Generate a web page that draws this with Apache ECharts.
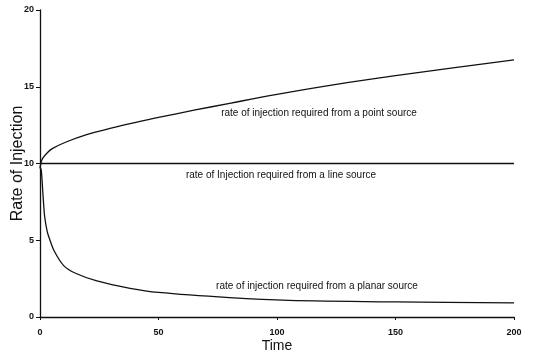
<!DOCTYPE html>
<html><head><meta charset="utf-8">
<script src="https://cdn.jsdelivr.net/npm/echarts@6/dist/echarts.min.js"></script>
<style>html,body{margin:0;padding:0;background:#fff}#c{width:535px;height:357px}</style>
</head><body><div id="c"></div>
<script>
const xTicks = [0, 50, 100, 150, 200];
const yTicks = [0, 5, 10, 15, 20];
const pointT = [0, 0.5, 1, 2.5, 5, 11, 20, 30, 40, 50, 65, 80, 100, 125, 150, 175, 200];
const pointV = [9.7, 10.1, 10.3, 10.6, 10.95, 11.4, 11.9, 12.3, 12.66, 13.0, 13.47, 13.92, 14.5, 15.15, 15.72, 16.25, 16.75];
const lineT = [0, 50, 100, 150, 200];
const lineV = [10, 10, 10, 10, 10];
const planarT = [0, 0.5, 1, 1.5, 2, 3, 4, 6, 10, 15, 24, 38, 50, 80, 105, 150, 200];
const planarV = [9.7, 9.6, 8.6, 7.4, 6.5, 5.6, 5.1, 4.3, 3.35, 2.85, 2.35, 1.87, 1.6, 1.26, 1.08, 0.98, 0.92];
const labels = [
  {text: 'rate of injection required from a point source', x: 319, y: 113},
  {text: 'rate of Injection required from a line source', x: 281, y: 175},
  {text: 'rate of injection required from a planar source', x: 317, y: 286}
];
const zip = (a, b) => a.map((v, i) => [v, b[i]]);
const chart = echarts.init(document.getElementById('c'));
const lineStyle = {color: '#111', width: 1.3};
chart.setOption({
  animation: false,
  backgroundColor: '#fff',
  grid: {left: 40, right: 21, top: 10, bottom: 40, containLabel: false, outerBoundsMode: 'none'},
  xAxis: {
    type: 'value', min: xTicks[0], max: xTicks[xTicks.length - 1], interval: 50,
    name: 'Time', nameLocation: 'middle', nameGap: 22, nameMoveOverlap: false,
    nameTextStyle: {fontFamily: 'Liberation Sans', fontSize: 14, color: '#111'},
    axisLine: {lineStyle: {color: '#111', width: 1.3}},
    axisTick: {length: 3, lineStyle: {color: '#111'}},
    axisLabel: {fontFamily: 'Liberation Sans', fontSize: 9, fontWeight: 'bold', color: '#111', margin: 11},
    splitLine: {show: false}
  },
  yAxis: {
    type: 'value', min: yTicks[0], max: yTicks[yTicks.length - 1], interval: 5,
    name: 'Rate of Injection', nameLocation: 'middle', nameGap: 14, nameMoveOverlap: false,
    nameTextStyle: {fontFamily: 'Liberation Sans', fontSize: 16, color: '#111'},
    axisLine: {show: true, lineStyle: {color: '#111', width: 1.3}},
    axisTick: {show: true, length: 4, lineStyle: {color: '#111'}},
    axisLabel: {fontFamily: 'Liberation Sans', fontSize: 9, fontWeight: 'bold', color: '#111', margin: 6},
    splitLine: {show: false}
  },
  series: [
    {type: 'line', data: zip(pointT, pointV), smooth: 0.4, showSymbol: false, lineStyle},
    {type: 'line', data: zip(lineT, lineV), showSymbol: false, lineStyle},
    {type: 'line', data: zip(planarT, planarV), smooth: 0.3, showSymbol: false, lineStyle}
  ],
  graphic: labels.map(l => ({
    type: 'text', x: l.x, y: l.y,
    style: {text: l.text, fontFamily: 'Liberation Sans', fontSize: 10, fill: '#111', align: 'center', verticalAlign: 'middle'}
  }))
});
</script></body></html>
